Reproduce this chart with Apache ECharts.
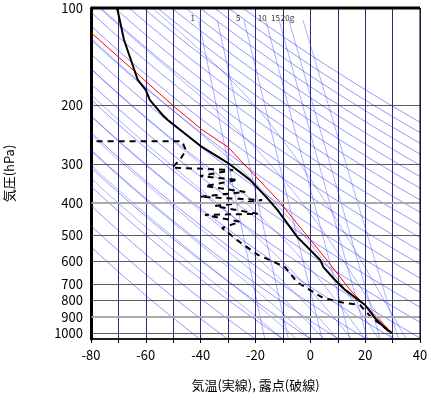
<!DOCTYPE html>
<html><head><meta charset="utf-8">
<script src="https://cdn.jsdelivr.net/npm/echarts@6/dist/echarts.min.js"></script>
<style>html,body{margin:0;background:#fff}#chart{width:431px;height:408px}</style>
</head><body><div id="chart"></div>
<script>
// 観測値 (気圧 hPa, 気温 ℃)
const tempP = [100, 109, 125, 140, 166, 179, 192, 213, 221, 237, 266, 300, 338, 384, 418, 506, 596, 626, 687, 737, 820, 900, 967, 1000]
const tempT = [-70.5, -69.5, -68, -66, -63, -60, -58.5, -54, -52, -47.5, -40, -30, -22, -15.8, -12, -4.8, 3.6, 4.7, 9, 12.7, 20, 23.6, 27.3, 29.8]
const dewP = [257, 257, 274, 293, 310, 315, 329, 338, 353, 368, 381, 390, 407, 430, 433, 455, 475, 517, 575, 626, 697, 780, 809, 820, 900, 960, 1000]
const dewT = [-90, -46.8, -45.4, -47.5, -50.5, -28.2, -40.2, -26.4, -38.4, -23.8, -40.2, -17.6, -34.8, -19.1, -38.4, -25.7, -32.2, -26.8, -19.1, -9.3, -4.9, 4.6, 12.6, 18.1, 22.5, 27.2, 29]
const parcelP = [119, 200, 237, 268, 390, 596, 737, 1000]
const parcelT = [-80, -50, -39.5, -30, -11.8, 6, 14.5, 29.8]
const pLevels = [100, 200, 300, 400, 500, 600, 700, 800, 900, 1000]
const mixRatios = [1, 2, 5, 10, 15, 20, 30]
const mixLabels = ['1', '', '5', '10', '15', '20g', '']

const lp = p => Math.log10(p)
const es = t => 6.112 * Math.exp(17.67 * t / (t + 243.5))
const pGrid = []
for (let p = 1045; p >= 95; p -= 5) pGrid.push(p)

const blue = 'rgba(30,30,255,0.6)'
const guide = (data, extra) => Object.assign({
  type: 'line', data, showSymbol: false, silent: true, clip: true,
  lineStyle: { color: blue, width: 0.8 }, z: 1
}, extra || {})

const series = []
// 乾燥断熱線
for (let th = 230; th <= 480; th += 10) {
  series.push(guide(pGrid.map(p => [th * Math.pow(p / 1000, 0.286) - 273.15, lp(p)])))
}
// 湿潤断熱線
for (let t0 = -10; t0 <= 35; t0 += 5) {
  let T = t0 + 273.15
  const d = []
  for (let p = 1045; p >= 95; p -= 1) {
    if (p % 5 === 0) d.push([T - 273.15, lp(p)])
    const e = es(T - 273.15)
    const rs = 0.622 * e / (p - e)
    const dTdp = (287 * T + 2.5e6 * rs) / (1004 + 2.5e6 * 2.5e6 * rs * 0.622 / (287 * T * T)) / p
    T -= dTdp
  }
  series.push(guide(d, { lineStyle: { color: blue, width: 0.6 } }))
}
// 等飽和混合比線
mixRatios.forEach((w, i) => {
  const d = [1045, 109].map(p => {
    const e = w * p / (622 + w)
    const a = Math.log(e / 6.112)
    return [243.5 * a / (17.67 - a), lp(p)]
  })
  series.push(guide(d, {
    lineStyle: { color: blue, width: 0.6 },
    endLabel: { show: !!mixLabels[i], formatter: mixLabels[i], fontSize: 8, color: '#333', distance: 0, offset: [-8, -2] }
  }))
})
// 等圧線
series.push({
  type: 'line', data: [], silent: true,
  markLine: {
    symbol: 'none', silent: true,
    data: pLevels.map(p => ({
      yAxis: lp(p),
      lineStyle: { color: (p === 400 || p === 900) ? '#aaa' : '#333', width: (p === 400 || p === 900) ? 2 : 0.8, type: 'solid' },
      label: { show: true, position: 'start', formatter: String(p), fontSize: 13, color: '#000', distance: 8 }
    }))
  }
})
series.push({ type: 'line', data: parcelP.map((p, i) => [parcelT[i], lp(p)]), showSymbol: false, clip: true, lineStyle: { color: '#ff0000', width: 1 }, z: 3 })
series.push({ type: 'line', data: dewP.map((p, i) => [dewT[i], lp(p)]), showSymbol: false, clip: true, lineStyle: { color: '#000', width: 2, type: [6, 5] }, z: 4 })
series.push({ type: 'line', data: tempP.map((p, i) => [tempT[i], lp(p)]), showSymbol: false, clip: true, lineStyle: { color: '#000', width: 2 }, z: 5 })

const chart = echarts.init(document.getElementById('chart'))
chart.setOption({
  animation: false,
  textStyle: { fontFamily: 'Noto Sans CJK JP' },
  grid: { left: 91, right: 11, top: 8, bottom: 69, outerBoundsMode: 'none', containLabel: false },
  xAxis: {
    type: 'value', min: -80, max: 40, interval: 10,
    name: '気温(実線), 露点(破線)', nameLocation: 'middle', nameGap: 40,
    nameTextStyle: { fontSize: 13, color: '#000' },
    axisLine: { onZero: false, lineStyle: { color: '#000', width: 1.5 } },
    axisTick: { lineStyle: { color: '#000' }, length: 4 },
    axisLabel: { fontSize: 13, color: '#000', margin: 10, formatter: v => v % 20 === 0 ? v : '' },
    splitLine: { lineStyle: { color: '#2a2a8a', width: 1 } }
  },
  yAxis: {
    type: 'value', inverse: true, min: 2, max: 3.0185,
    name: '気圧(hPa)', nameLocation: 'middle', nameGap: 75, nameRotate: 90,
    nameTextStyle: { fontSize: 13, color: '#000' },
    axisLine: { onZero: false, lineStyle: { color: '#000', width: 3 } },
    axisTick: { show: false }, axisLabel: { show: false }, splitLine: { show: false }
  },
  graphic: [
    { type: 'rect', shape: { x: 91, y: 8, width: 329, height: 331 }, style: { fill: 'none', stroke: '#000', lineWidth: 1 }, z: 100, silent: true },
    { type: 'line', shape: { x1: 91, y1: 8, x2: 420, y2: 8 }, style: { stroke: '#000', lineWidth: 3 }, z: 100, silent: true }
  ],
  series
})
</script></body></html>
